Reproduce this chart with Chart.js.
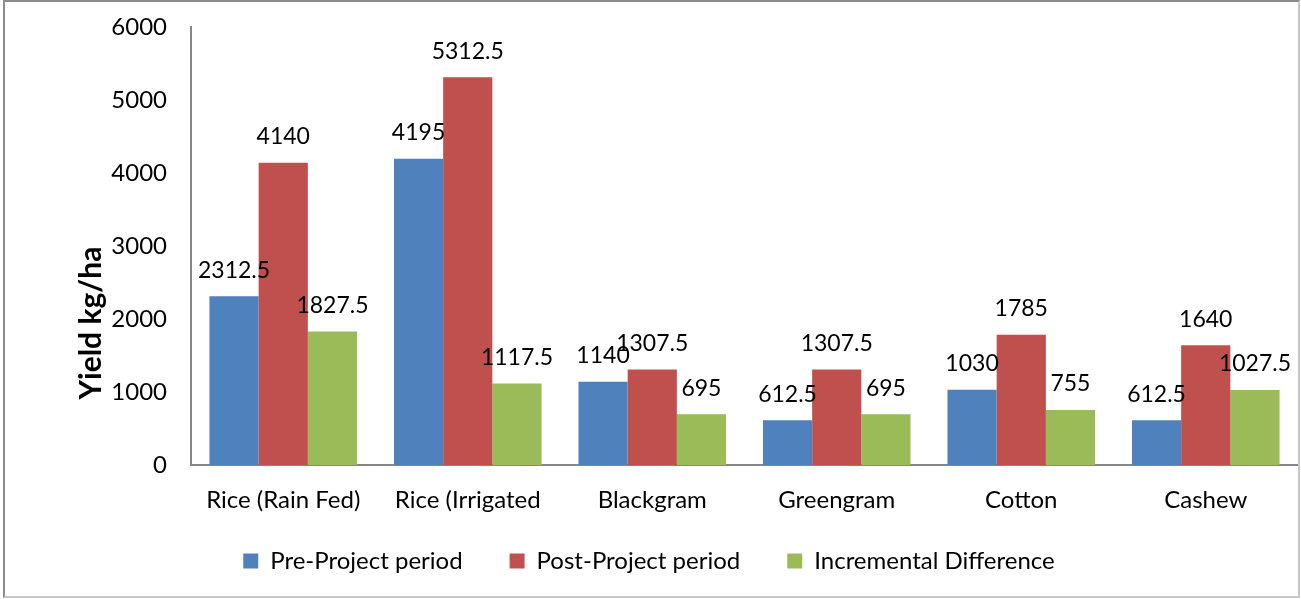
<!DOCTYPE html>
<html>
<head>
<meta charset="utf-8">
<script src="https://cdn.jsdelivr.net/npm/chart.js@4.4.0/dist/chart.umd.min.js"></script>
<style>
  html, body { margin: 0; padding: 0; background: #ffffff; }
  #chart { position: absolute; left: 0; top: 0; }
  #frame {
    position: absolute; left: 3px; top: 0; width: 1297px; height: 598px;
    box-sizing: border-box; pointer-events: none;
    border-left: 2px solid #8c8c8c; border-top: 2px solid #8c8c8c;
    border-right: 2px solid #c8c8c8; border-bottom: 2px solid #c8c8c8;
  }
</style>
</head>
<body>
<canvas id="chart" width="1301" height="599"></canvas>
<div id="frame"></div>
<script>
// Crops and yields (kg/ha)
const crops = ['Rice (Rain Fed)', 'Rice (Irrigated', 'Blackgram', 'Greengram', 'Cotton', 'Cashew'];
const prePeriod = [2312.5, 4195, 1140, 612.5, 1030, 612.5];
const postPeriod = [4140, 5312.5, 1307.5, 1307.5, 1785, 1640];
const increment = [1827.5, 1117.5, 695, 695, 755, 1027.5];
const seriesNames = ['Pre-Project period', 'Post-Project period', 'Incremental Difference'];
const yTicks = [0, 1000, 2000, 3000, 4000, 5000, 6000];

const FONT = 'Lato, "Open Sans", sans-serif';

// value labels above each bar
const barValues = {
    id: 'barValues',
    afterDatasetsDraw(chart) {
        const ctx = chart.ctx;
        ctx.save();
        ctx.font = '23px ' + FONT;
        ctx.fillStyle = '#000000';
        ctx.textAlign = 'center';
        ctx.textBaseline = 'middle';
        chart.data.datasets.forEach((ds, i) => {
            chart.getDatasetMeta(i).data.forEach((bar, j) => {
                ctx.fillText(String(ds.data[j]), bar.x, bar.y - 26);
            });
        });
        ctx.restore();
    }
};

// y axis title, sits a bit below the middle like the original
const yTitle = {
    id: 'yTitle',
    afterDraw(chart) {
        const ctx = chart.ctx;
        ctx.save();
        ctx.translate(91, 323);
        ctx.rotate(-Math.PI / 2);
        ctx.font = 'bold 30px ' + FONT;
        ctx.fillStyle = '#000000';
        ctx.textAlign = 'center';
        ctx.textBaseline = 'middle';
        ctx.fillText('Yield kg/ha', 0, 0);
        ctx.restore();
    }
};

const PLOT_BOTTOM = 465;
const PAD_BOTTOM = 16;

new Chart(document.getElementById('chart'), {
    type: 'bar',
    data: {
        labels: crops,
        datasets: [
            { label: seriesNames[0], data: prePeriod, backgroundColor: '#4F81BD' },
            { label: seriesNames[1], data: postPeriod, backgroundColor: '#C0504D' },
            { label: seriesNames[2], data: increment, backgroundColor: '#9BBB59' }
        ]
    },
    options: {
        responsive: false,
        animation: false,
        devicePixelRatio: 1,
        layout: { padding: { top: 27, right: 3, left: 0, bottom: PAD_BOTTOM } },
        datasets: { bar: { barPercentage: 1.0, categoryPercentage: 0.8 } },
        plugins: {
            legend: {
                position: 'bottom',
                labels: {
                    boxWidth: 15,
                    boxHeight: 15,
                    padding: 47,
                    color: '#000000',
                    font: { family: FONT, size: 24 }
                }
            },
            tooltip: { enabled: false }
        },
        scales: {
            x: {
                grid: { display: false, drawTicks: false },
                border: { color: '#868686', width: 2 },
                ticks: { color: '#000000', padding: 21, maxRotation: 0, font: { family: FONT, size: 24 } },
                afterFit(scale) {
                    const lg = scale.chart.legend;
                    const lh = lg ? lg.height : 0;
                    scale.height = scale.chart.height - PAD_BOTTOM - lh - PLOT_BOTTOM;
                    // the box is thinner than the labels here, so don't clip them to it
                    scale._computeLabelArea = () => undefined;
                }
            },
            y: {
                min: 0,
                max: 6000,
                grid: { display: false, drawTicks: false },
                border: { color: '#868686', width: 2 },
                ticks: {
                    stepSize: 1000,
                    padding: 24,
                    color: '#000000',
                    font: { family: FONT, size: 24 },
                    callback: v => String(v)
                },
                afterBuildTicks(scale) {
                    scale.ticks = yTicks.map(v => ({ value: v }));
                },
                afterFit(scale) {
                    scale.width = 191;
                    scale.paddingTop = 0;
                    scale.paddingBottom = 0;
                }
            }
        }
    },
    plugins: [barValues, yTitle]
});
</script>
</body>
</html>
